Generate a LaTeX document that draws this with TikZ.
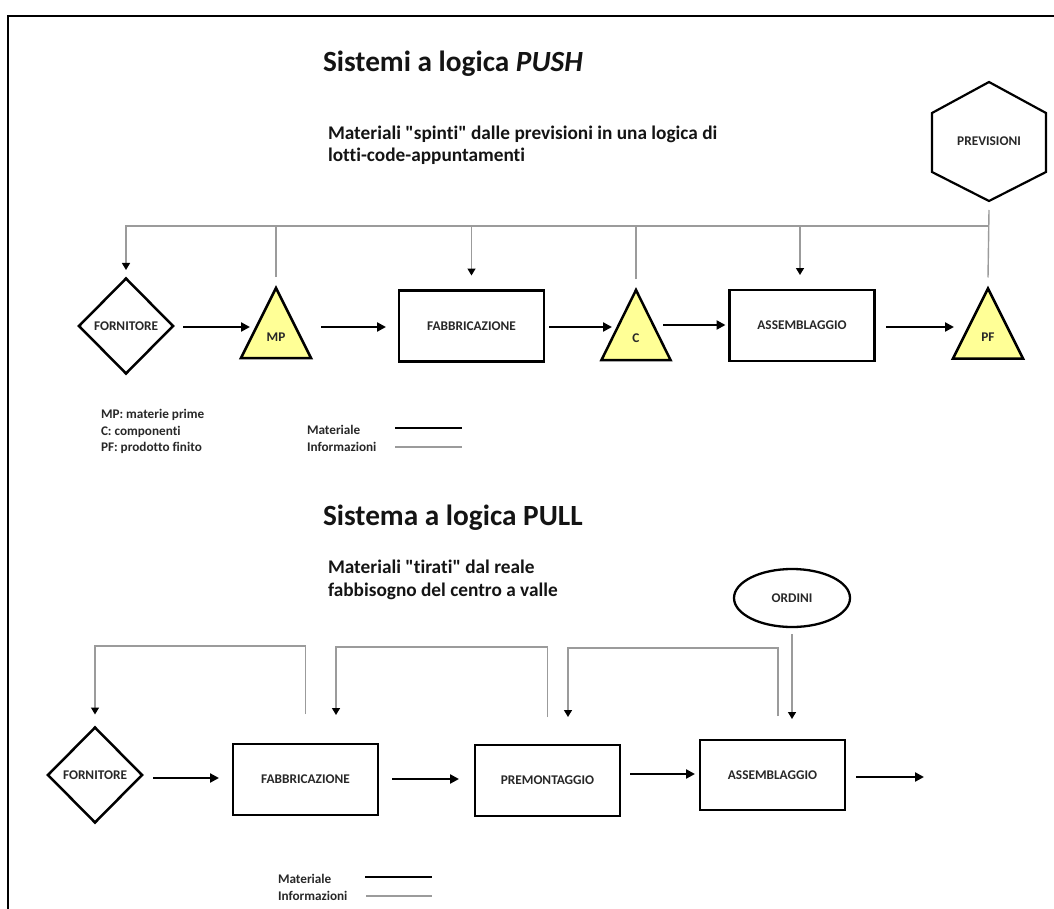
\documentclass[tikz,border=0pt]{standalone}
\usepackage{fontspec}
\setmainfont{Carlito}[Ligatures={TeXOff,CommonOff}]
\usetikzlibrary{arrows.meta,shapes.geometric}

\definecolor{infogray}{RGB}{155,155,155}
\definecolor{stockfill}{RGB}{255,255,150}
\definecolor{labtext}{RGB}{40,40,40}
\definecolor{headtext}{RGB}{20,20,20}

\begin{document}
\begin{tikzpicture}[x=1pt,y=-1pt,
  every node/.style={inner sep=0pt,outer sep=0pt},
  lab/.style={text=labtext,font=\bfseries\fontsize{13.3}{15}\selectfont},
  leg/.style={text=labtext,font=\bfseries\fontsize{13.2}{15}\selectfont,anchor=base west},
  headline/.style={text=headtext,font=\bfseries\fontsize{29.3}{34}\selectfont,anchor=base west},
  subline/.style={text=headtext,font=\bfseries\fontsize{19.3}{22}\selectfont,anchor=base west},
  proc/.style={lab,draw=black,line width=2.8pt,rectangle,minimum width=145pt,minimum height=71pt},
  supplier/.style={lab,draw=black,line width=2.5pt,diamond,minimum width=94pt,minimum height=95pt},
  stockbox/.style={minimum width=70pt,minimum height=70pt},
  stockshape/.style={draw=black,line width=2.5pt,fill=stockfill,line join=miter},
  mat/.style={draw=black,line width=2.6pt,-{Triangle[length=9pt,width=9pt]}},
  matline/.style={draw=black,line width=2.6pt},
  info/.style={draw=infogray,line width=1.4pt},
  infoarr/.style={info,-{Triangle[length=7pt,width=8pt,black]}}
]
\useasboundingbox (0,0) rectangle (1054,909);

% page frame
\draw[line width=2.3pt] (1054,16) -- (7.7,16) -- (7.7,909);

% ---------------- PUSH ----------------
\node[headline] (pushtitle) at (323,72) {Sistemi a logica \textit{PUSH}};
\node[subline] (pushsub1) at (328,140) {Materiali "spinti" dalle previsioni in una logica di};
\node[subline] (pushsub2) at (328,162) {lotti-code-appuntamenti};

% forecast hexagon
\node[lab] (prev) at (989,141.5) {PREVISIONI};
\draw[line width=2.2pt,line join=miter] ([yshift=59.5pt]prev.center) -- ++(57,31) -- ++(0,59)
  -- ++(-57,29) -- ++(-57,-29) -- ++(0,-59) -- cycle;
\coordinate (prevbot) at ([yshift=-59.5pt]prev.center);

% process chain
\node[supplier] (forn1) at (126,326) {FORNITORE};
\node[stockbox] (mp) at (276,323) {};
\draw[stockshape] (mp.south west) -- (mp.south east) -- (mp.north) -- cycle;
\node[lab] (mplab) at (276,337) {MP};
\node[proc] (fab1) at (471.5,326) {FABBRICAZIONE};
\node[stockbox,minimum width=69pt] (c) at (636,325) {};
\draw[stockshape] (c.south west) -- (c.south east) -- (c.north) -- cycle;
\node[lab] (clab) at (636,338) {C};
\node[proc] (ass1) at (802,325.5) {ASSEMBLAGGIO};
\node[stockbox] (pf) at (988,323.5) {};
\draw[stockshape] (pf.south west) -- (pf.south east) -- (pf.north) -- cycle;
\node[lab] (pflab) at (988,337) {PF};

% material flow
\draw[mat] ([xshift=10pt]forn1.east |- 0,327) -- ([xshift=9pt]mp.west |- 0,327);
\draw[mat] ([xshift=10pt]mp.east |- 0,327) -- ([xshift=-13pt]fab1.west |- 0,327);
\draw[mat] ([xshift=5pt]fab1.east |- 0,327) -- ([xshift=10.5pt]c.west |- 0,327);
\draw[mat] ([xshift=-7.5pt]c.east |- 0,325) -- ([xshift=-4pt]ass1.west |- 0,325);
\draw[mat] ([xshift=11.5pt]ass1.east |- 0,327) -- ([xshift=1pt]pf.west |- 0,327);

% information flow
\coordinate (busR) at (989,226);
\draw[info] ([yshift=-9pt]prevbot) -- ([yshift=11pt]pf.north);
\draw[infoarr] (busR) -| ([yshift=8.5pt]forn1.north);
\draw[info] ([yshift=11pt]mp.north) -- (mp.north |- busR);
\draw[infoarr] (fab1.north |- busR) -- ([yshift=15pt]fab1.north);
\draw[info] ([yshift=11pt]c.north) -- (c.north |- busR);
\draw[infoarr] ([xshift=-2pt]ass1.north |- busR) -- ([xshift=-2pt,yshift=15pt]ass1.north);

% legend
\node[leg] (k1) at (101,418) {MP: materie prime};
\node[leg] (k2) at (101,435) {C: componenti};
\node[leg] (k3) at (101,451) {PF: prodotto finito};
\node[leg] (lm1) at (307,434) {Materiale};
\node[leg] (li1) at (307,451) {Informazioni};
\draw[matline] (395,428) -- (462,428);
\draw[info] (395,447) -- (462,447);

% ---------------- PULL ----------------
\node[headline] (pulltitle) at (323,525) {Sistema a logica PULL};
\node[subline] (pullsub1) at (328,573) {Materiali "tirati" dal reale};
\node[subline] (pullsub2) at (328,596) {fabbisogno del centro a valle};

\node[lab,draw=black,line width=2.3pt,ellipse,minimum width=116pt,minimum height=58pt] (ordini) at (792,598) {ORDINI};

\node[supplier] (forn2) at (95,775) {FORNITORE};
\node[proc] (fab2) at (305.5,779.5) {FABBRICAZIONE};
\node[proc] (prem) at (547.5,780.5) {PREMONTAGGIO};
\node[proc,minimum height=70pt] (ass2) at (772.5,775) {ASSEMBLAGGIO};
\coordinate (uscita) at (924,777);

% material flow
\draw[mat] ([xshift=11pt]forn2.east |- 0,778) -- ([xshift=-14pt]fab2.west |- 0,778);
\draw[mat] ([xshift=14pt]fab2.east |- 0,779) -- ([xshift=-16pt]prem.west |- 0,779);
\draw[mat] ([xshift=10pt]prem.east |- 0,774) -- ([xshift=-5pt]ass2.west |- 0,774);
\draw[mat] ([xshift=11pt]ass2.east |- uscita) -- (uscita);

% information flow
\draw[infoarr] ([yshift=30pt]fab2.north) -- ++(0,-68) -| ([yshift=13pt]forn2.north);
\draw[infoarr] ([yshift=28pt]prem.north) -- ++(0,-70) -| ([xshift=30.5pt,yshift=29pt]fab2.north);
\draw[infoarr] ([xshift=5.5pt,yshift=24pt]ass2.north) -- ++(0,-68) -| ([xshift=20.5pt,yshift=28pt]prem.north);
\draw[infoarr,shorten >=21pt] ([yshift=-7pt]ordini.south) -- (ordini.south |- ass2.north);

% legend
\node[leg] (lm2) at (278,883) {Materiale};
\node[leg] (li2) at (278,900) {Informazioni};
\draw[matline] (365,877) -- (432,877);
\draw[info] (366,896) -- (432,896);
\end{tikzpicture}
\end{document}
